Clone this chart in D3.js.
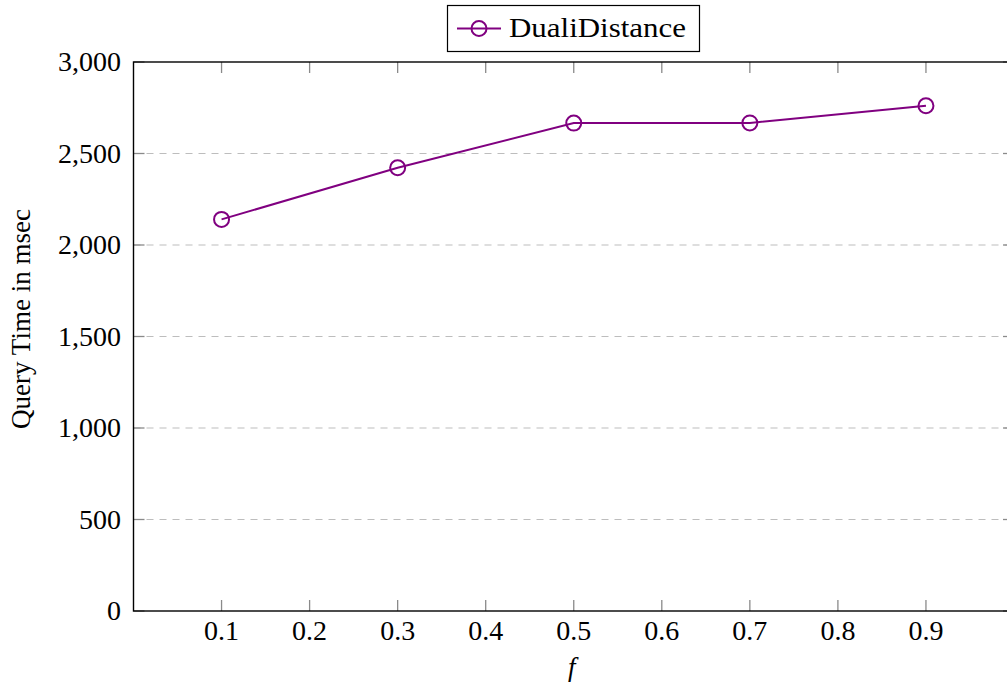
<!DOCTYPE html>
<html><head><meta charset="utf-8">
<script src="https://cdn.jsdelivr.net/npm/d3@7"></script>
<style>body{margin:0;background:#fff}svg{display:block}</style>
</head><body>
<svg id="c" width="1007" height="686" font-family="'Liberation Serif', 'Times New Roman', 'DejaVu Serif', serif"></svg>
<script>
const fValues = [0.1, 0.3, 0.5, 0.7, 0.9];
const queryTime = [2140, 2422, 2666, 2667, 2761];
const xTicks = [0.1, 0.2, 0.3, 0.4, 0.5, 0.6, 0.7, 0.8, 0.9];
const yTicks = [0, 500, 1000, 1500, 2000, 2500, 3000];
const seriesName = "DualiDistance";
const xLabel = "f";
const yLabel = "Query Time in msec";

const svg = d3.select("#c");
const L = 133.5, R = 1014, T = 62, B = 611;
const x = d3.scaleLinear().domain([0, 1]).range([L, R]);
const y = d3.scaleLinear().domain([0, 3000]).range([B, T]);
const purple = "#800080";
const fs = 27, tfs = 28;
const FF = "'Liberation Serif', 'Times New Roman', 'DejaVu Serif', serif";

// grid
svg.append("g").selectAll("line").data(yTicks.filter(d => d > 0 && d < 3000)).join("line")
  .attr("x1", L).attr("x2", R).attr("y1", d => y(d)).attr("y2", d => y(d))
  .attr("stroke", "#bdbdbd").attr("stroke-width", 1.2).attr("stroke-dasharray", "7,6");

// ticks (inward)
const tk = svg.append("g").attr("stroke", "#8a8a8a").attr("stroke-width", 1.3);
tk.selectAll(".xb").data(xTicks).join("line").attr("x1", d => x(d)).attr("x2", d => x(d)).attr("y1", B).attr("y2", B - 11);
tk.selectAll(".xt").data(xTicks).join("line").attr("x1", d => x(d)).attr("x2", d => x(d)).attr("y1", T).attr("y2", T + 11);
tk.selectAll(".yl").data(yTicks).join("line").attr("x1", L).attr("x2", L + 11).attr("y1", d => y(d)).attr("y2", d => y(d));
tk.selectAll(".yr").data(yTicks).join("line").attr("x1", R).attr("x2", R - 11).attr("y1", d => y(d)).attr("y2", d => y(d));

// frame
svg.append("rect").attr("x", L).attr("y", T).attr("width", R - L).attr("height", B - T)
  .attr("fill", "none").attr("stroke", "#000").attr("stroke-width", 1.4);

// tick labels
const fmt = d3.format(",");
svg.append("g").selectAll("text").data(yTicks).join("text")
  .attr("font-family", FF)
  .attr("x", 121).attr("y", d => y(d)).attr("dy", "0.33em").attr("text-anchor", "end")
  .attr("font-size", tfs).text(d => fmt(d));
svg.append("g").selectAll("text").data(xTicks).join("text")
  .attr("font-family", FF)
  .attr("x", d => x(d)).attr("y", 640).attr("text-anchor", "middle")
  .attr("font-size", tfs).text(d => d3.format(".1f")(d));

// axis labels
svg.append("text").attr("font-family", FF).attr("x", (L + R) / 2 - 2).attr("y", 676).attr("text-anchor", "middle")
  .attr("font-size", fs).attr("font-style", "italic").text(xLabel);
svg.append("text").attr("font-family", FF).attr("transform", "translate(30,319) rotate(-90)").attr("text-anchor", "middle")
  .attr("font-size", fs).text(yLabel);

// series
const pts = fValues.map((f, i) => [f, queryTime[i]]);
svg.append("path").datum(pts)
  .attr("d", d3.line().x(d => x(d[0])).y(d => y(d[1])))
  .attr("fill", "none").attr("stroke", purple).attr("stroke-width", 2);
svg.append("g").selectAll("circle").data(pts).join("circle")
  .attr("cx", d => x(d[0])).attr("cy", d => y(d[1])).attr("r", 7.5)
  .attr("fill", "none").attr("stroke", purple).attr("stroke-width", 2);

// legend
const lg = svg.append("g");
lg.append("rect").attr("x", 447.5).attr("y", 5.5).attr("width", 252).attr("height", 46)
  .attr("fill", "#fff").attr("stroke", "#000").attr("stroke-width", 1.2);
lg.append("line").attr("x1", 457).attr("x2", 501).attr("y1", 28.5).attr("y2", 28.5)
  .attr("stroke", purple).attr("stroke-width", 2);
lg.append("circle").attr("cx", 479).attr("cy", 28.5).attr("r", 7.5)
  .attr("fill", "none").attr("stroke", purple).attr("stroke-width", 2);
lg.append("text").attr("font-family", FF).attr("x", 509).attr("y", 28.5).attr("dy", "0.33em")
  .attr("font-size", fs).attr("textLength", 177).attr("lengthAdjust", "spacingAndGlyphs").text(seriesName);
</script>
</body></html>
